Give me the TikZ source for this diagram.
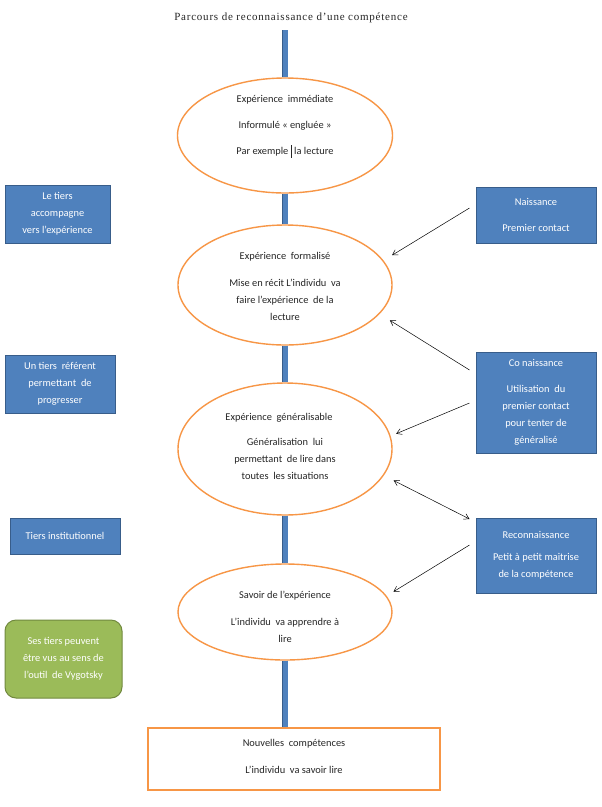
\documentclass[tikz,border=0pt]{standalone}
\usepackage{fontspec}
\setmainfont{Carlito}
\newfontfamily\titlefont[LetterSpace=7]{Liberation Serif}
\usetikzlibrary{shapes.geometric,arrows.meta,calc}
\definecolor{bluefill}{HTML}{4F81BD}
\definecolor{blueline}{HTML}{385D8A}
\definecolor{greenfill}{HTML}{9BBB59}
\definecolor{greenline}{HTML}{71893F}
\definecolor{orangeline}{HTML}{F79646}
\definecolor{txt}{HTML}{262626}
\tikzset{
  ell/.style={ellipse, draw=orangeline, line width=1.4pt, inner sep=0pt},
  etxt/.style={align=center, text=txt, font=\fontsize{10.4}{17}\selectfont, inner sep=0pt},
  bluebox/.style={rectangle, draw=blueline, line width=1pt, fill=bluefill, text=white,
    align=center, font=\fontsize{10.4}{17}\selectfont, inner sep=0pt},
  greenbox/.style={rectangle, rounded corners=11pt, draw=greenline, line width=1pt, fill=greenfill,
    text=white, align=center, font=\fontsize{10.4}{17}\selectfont, inner sep=0pt},
  finalbox/.style={rectangle, draw=orangeline, line width=1.4pt, fill=white, inner sep=0pt},
  bar/.style={draw=blueline, line width=0.8pt, double=bluefill, double distance=5pt},
  arr/.style={draw=black, line width=0.5pt, -{Straight Barb[length=5pt,width=6pt]}},
  darr/.style={draw=black, line width=0.5pt, {Straight Barb[length=5pt,width=6pt]}-{Straight Barb[length=5pt,width=6pt]}}
}
\begin{document}
\begin{tikzpicture}[x=1pt,y=-1pt]
\useasboundingbox (0,0) rectangle (602,807);
\fill[white] (0,0) rectangle (602,807);

% title
\node[inner sep=0pt, text=txt, font=\titlefont\fontsize{11}{13}\selectfont] (title) at (291,18) {Parcours de reconnaissance d’une compétence};

% ellipses
\node[ell, minimum width=215pt, minimum height=115pt] (e1) at (285,135.5) {};
\node[ell, minimum width=214pt, minimum height=120pt] (e2) at (285,285) {};
\node[ell, minimum width=214pt, minimum height=132pt] (e3) at (285,449) {};
\node[ell, minimum width=214pt, minimum height=96pt] (e4) at (285,612) {};
\node[finalbox, minimum width=292pt, minimum height=62pt] (fin) at (294,759) {};

% bars
\draw[bar] (e1.north |- 0,30) coordinate (t0) -- (e1.north);
\draw[bar] (e1.south) -- (e2.north);
\draw[bar] (e2.south) -- (e3.north);
\draw[bar] (e3.south) -- (e4.north);
\draw[bar] (e4.south) -- (e4.south |- fin.north);

% ellipse texts
\node[etxt] (t1) at ($(e1)+(0,-9)$) {Expérience\ \ immédiate\\[9pt]Informulé « engluée\ »\\[9pt]Par exemple \rule[-3pt]{1.8pt}{13pt}\,la lecture};
\node[etxt] (t2) at ($(e2)+(0,1.5)$) {Expérience\ \ formalisé\\[10pt]Mise en récit L’individu\ \ va\\faire l’expérience\ \ de la\\lecture};
\node[etxt] (t3) at ($(e3)+(0,-3)$) {\hspace*{-12pt}Expérience\ \ généralisable\\[8pt]Généralisation\ \ lui\\permettant\ \ de lire dans\\toutes\ \ les situations};
\node[etxt] (t4) at ($(e4)+(0,5)$) {Savoir de l’expérience\\[10pt]L’individu\ \ va apprendre à\\lire};
\node[etxt] (t5) at ($(fin)+(0,-2.5)$) {Nouvelles\ \ compétences\\[10pt]L’individu\ \ va savoir lire};

% left boxes
\node[bluebox, minimum width=105pt, minimum height=58pt] (l1) at (57.5,214) {Le tiers\\accompagne\\vers l’expérience};
\node[bluebox, minimum width=110pt, minimum height=58pt] (l2) at (60,384) {Un tiers\ \ référent\\permettant\ \ de\\progresser};
\node[bluebox, minimum width=110pt, minimum height=36pt] (l3) at (65,536) {Tiers institutionnel};
\node[greenbox, minimum width=117pt, minimum height=78pt] (g1) at (63.5,659) {Ses tiers peuvent\\être vus au sens de\\l’outil\ \ de Vygotsky};

% right boxes
\node[bluebox, minimum width=120pt, minimum height=56pt] (nais) at (536,215) {Naissance\\[9pt]Premier contact};
\node[bluebox, minimum width=120pt, minimum height=101pt] (cona) at (536,402.5) {Co naissance\\[9pt]Utilisation\ \ du\\premier contact\\pour tenter de\\généralisé};
\node[bluebox, minimum width=120pt, minimum height=75pt] (reco) at (536,555.5) {Reconnaissance\\[5pt]Petit à petit maitrise\\de la compétence};

% arrows
\draw[arr, shorten >=10pt] ($(nais.west)+(-6,-7)$) -- (e2.14);
\draw[arr, shorten >=12pt] ($(cona.west)+(-6,-32.5)$) -- (e2.-17);
\draw[arr, shorten >=6pt] ($(cona.west)+(-6,0.5)$) -- (e3.7);
\draw[darr, shorten <=11pt] (e3.-15) -- ($(reco.west)+(-6,-36.5)$);
\draw[arr, shorten >=8pt] ($(reco.west)+(-6,-10.5)$) -- (e4.9);
\end{tikzpicture}
\end{document}
